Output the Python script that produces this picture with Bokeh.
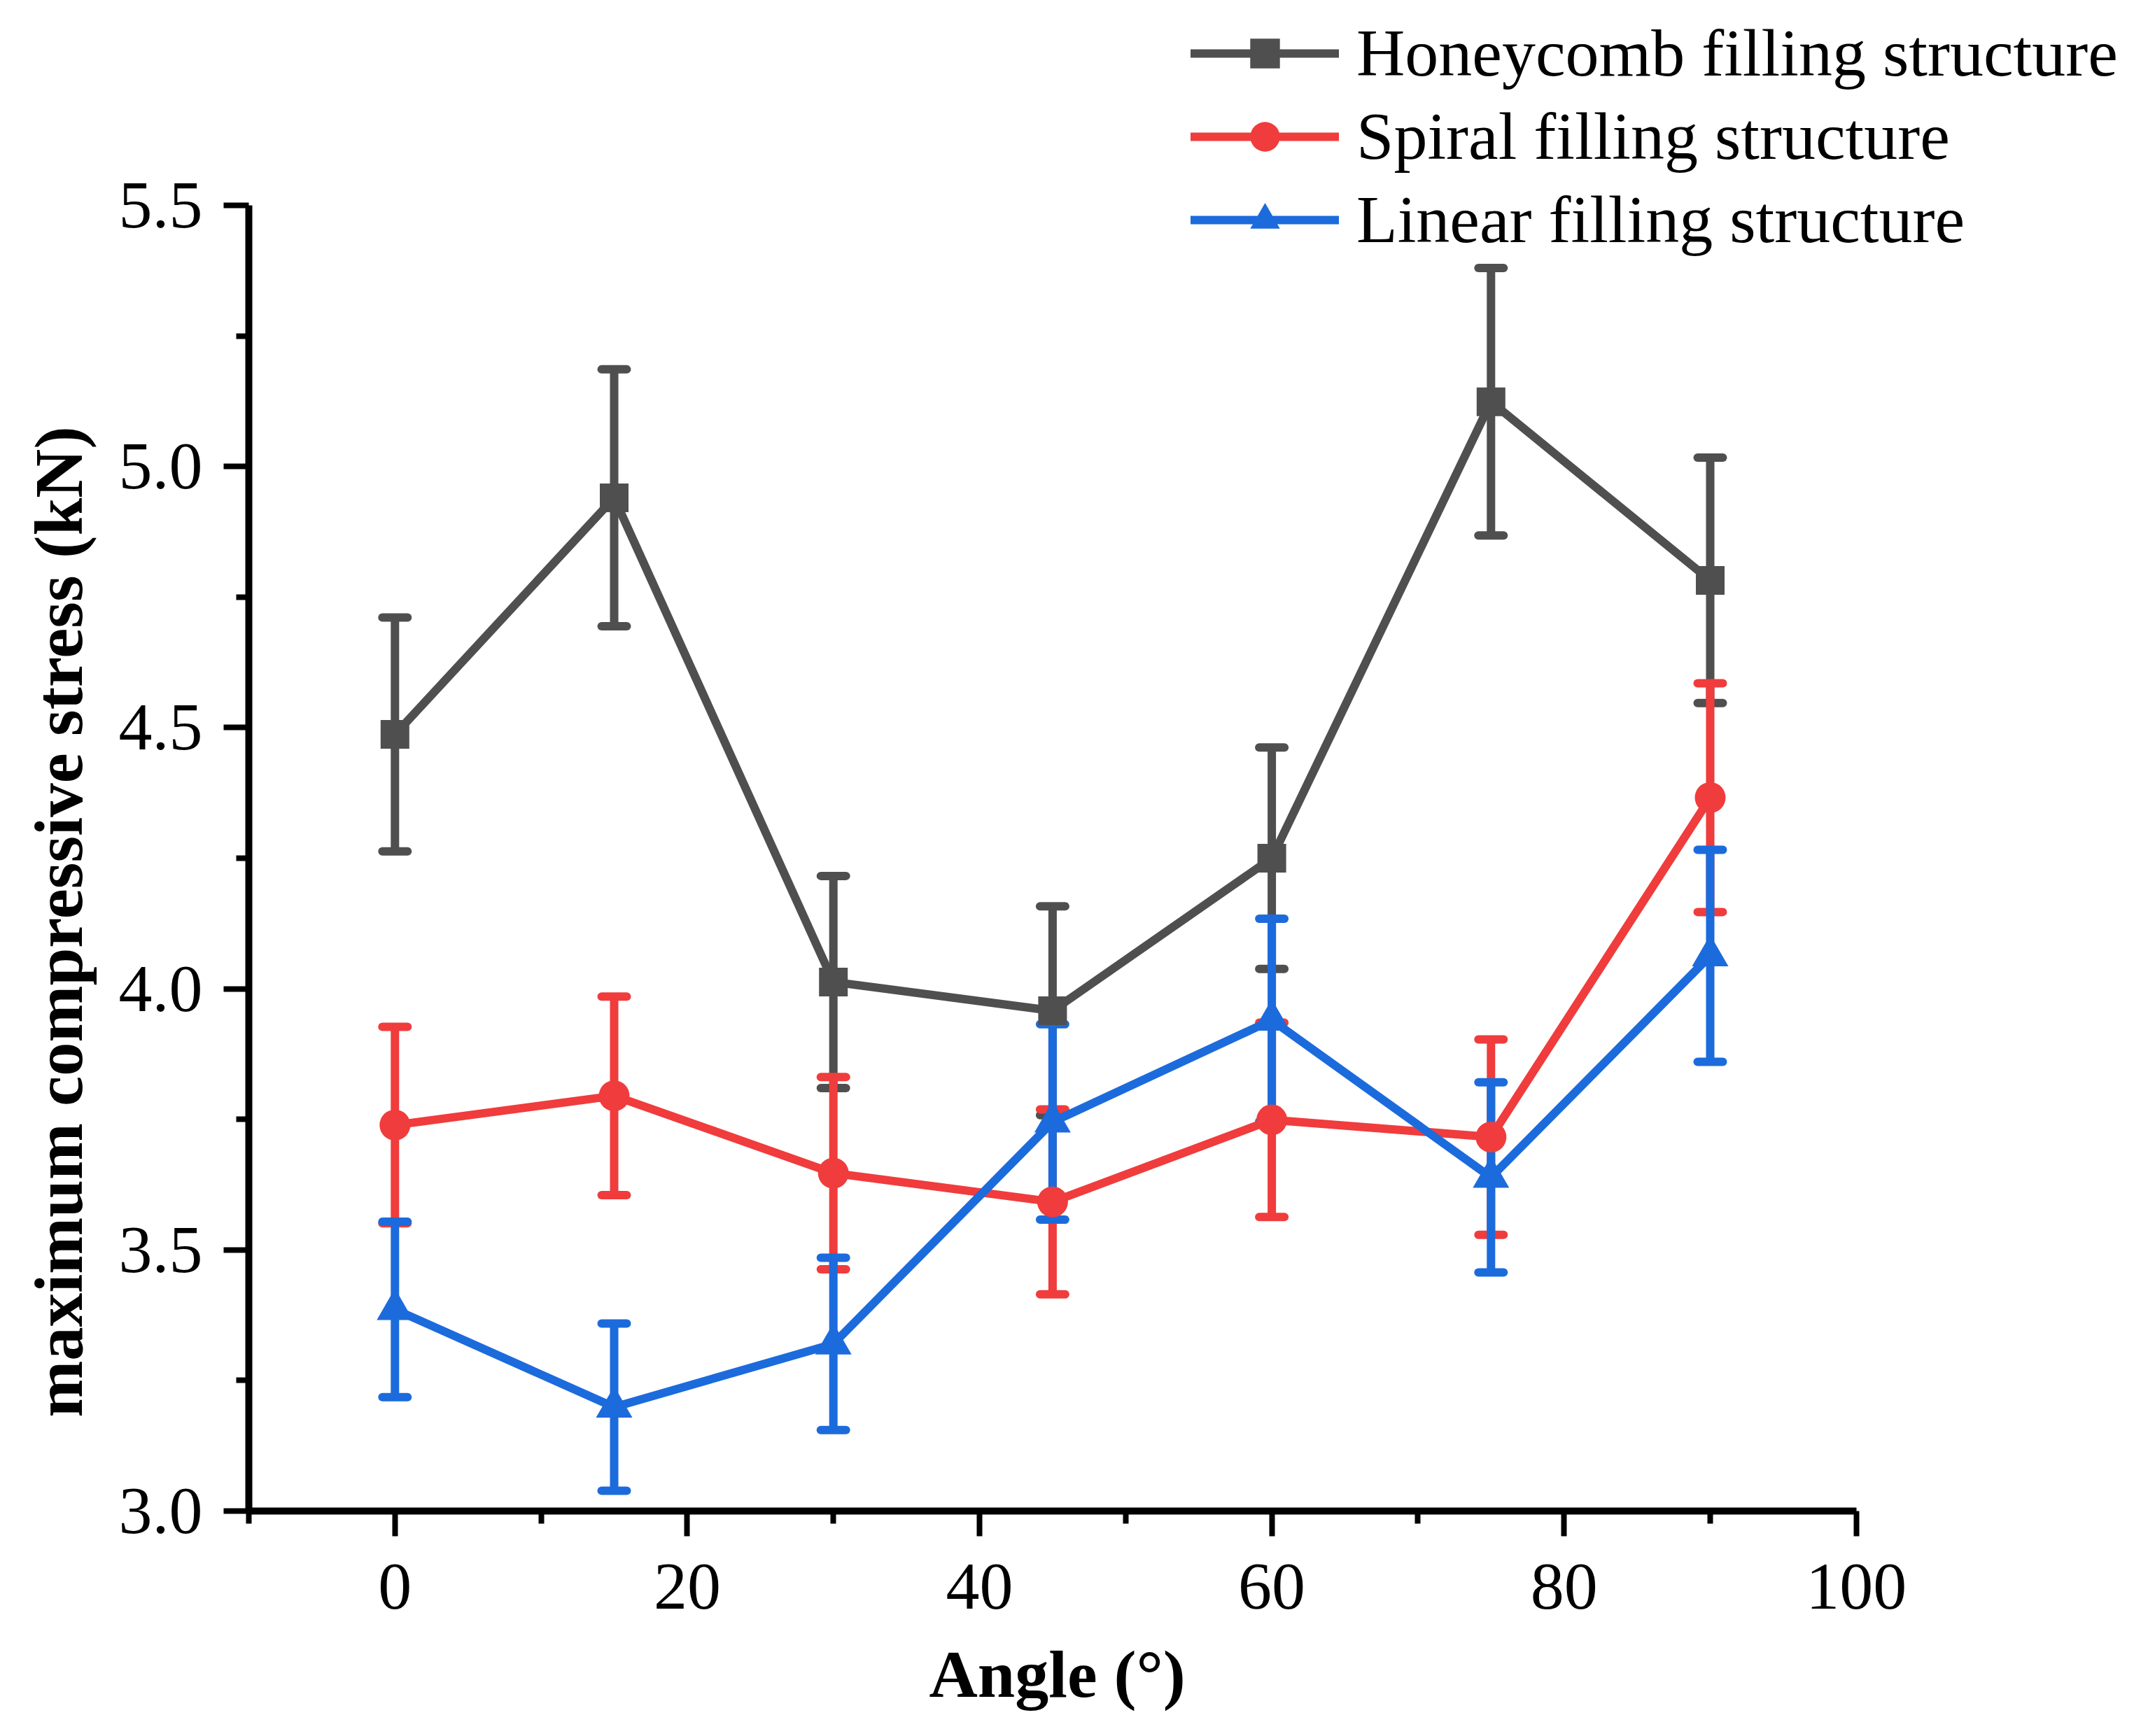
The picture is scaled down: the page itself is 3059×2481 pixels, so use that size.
from bokeh.plotting import figure
from bokeh.models import (ColumnDataSource, Whisker, TeeHead, Legend, LegendItem,
                          Range1d, FixedTicker, PrintfTickFormatter, Title)
from bokeh.embed import file_html
from bokeh.resources import INLINE

# ---- data ----
angles = [0, 15, 30, 45, 60, 75, 90]
honeycomb = [4.487, 4.94, 4.013, 3.958, 4.25, 5.124, 4.782]
honeycomb_err = [0.224, 0.246, 0.203, 0.200, 0.212, 0.256, 0.235]
spiral = [3.739, 3.795, 3.647, 3.592, 3.749, 3.716, 4.366]
spiral_err = [0.188, 0.190, 0.184, 0.177, 0.186, 0.187, 0.219]
linear = [3.386, 3.199, 3.320, 3.745, 3.940, 3.639, 4.063]
linear_err = [0.168, 0.160, 0.165, 0.187, 0.194, 0.182, 0.203]

names = ["Honeycomb filling structure", "Spiral filling structure", "Linear filling structure"]
colors = ["#4f4f4f", "#f03c3c", "#1c6bdc"]
markers = ["square", "circle", "triangle"]
msizes = [41, 44, 52]

x_label = "Angle (°)"
y_label = "maximum compressive stress (kN)"
x_ticks = [0, 20, 40, 60, 80, 100]
x_minor = [-10, 10, 30, 50, 70, 90]
y_ticks = [3.0, 3.5, 4.0, 4.5, 5.0, 5.5]
y_minor = [3.25, 3.75, 4.25, 4.75, 5.25]
x_axis_span = (-10, 100)
y_axis_span = (3.0, 5.5)

FONT = "Liberation Serif"

# frame extends to the top/right edges so the legend (which sits above/right
# of the axes in the reference) is not clipped; axes are bounded to their spans
W, H = 3051, 2473
LEFT, BOTTOM = 355, 314
FW, FH = W - LEFT, H - BOTTOM
px_x = 2088 / 100.0   # pixels per degree
px_y = 1866 / 2.5     # pixels per kN
p = figure(width=W, height=H, frame_width=FW, frame_height=FH,
           min_border_left=LEFT, min_border_right=0, min_border_top=0, min_border_bottom=BOTTOM,
           x_range=Range1d(-10, -10 + FW / px_x), y_range=Range1d(3.0, 3.0 + FH / px_y),
           output_backend="svg", toolbar_location=None)
p.outline_line_color = None
p.xgrid.visible = False
p.ygrid.visible = False
p.background_fill_color = "white"
p.border_fill_color = "white"

for ax in (p.xaxis[0], p.yaxis[0]):
    ax.axis_line_width = 10
    ax.axis_line_color = "black"
    ax.major_tick_line_width = 8
    ax.minor_tick_line_width = 8
    ax.major_tick_line_color = "black"
    ax.minor_tick_line_color = "black"
    ax.major_tick_in = 0
    ax.major_tick_out = 36
    ax.minor_tick_in = 0
    ax.minor_tick_out = 18
    ax.major_label_text_font = FONT
    ax.major_label_text_font_size = "96px"
    ax.major_label_text_color = "black"

p.xaxis[0].ticker = FixedTicker(ticks=x_ticks, minor_ticks=x_minor)
p.yaxis[0].ticker = FixedTicker(ticks=y_ticks, minor_ticks=y_minor)
p.xaxis[0].bounds = x_axis_span
p.yaxis[0].bounds = y_axis_span
p.yaxis[0].formatter = PrintfTickFormatter(format="%.1f")
p.xaxis[0].major_label_standoff = 40
p.yaxis[0].major_label_standoff = 30

# axis titles, positioned along the bounded axes
p.add_layout(Title(text=x_label, align="left", offset=972, standoff=70,
                   text_font=FONT, text_font_size="96px", text_font_style="bold",
                   text_color="black"), "below")
p.add_layout(Title(text=y_label, align="left", offset=134, standoff=57,
                   text_font=FONT, text_font_size="97px", text_font_style="bold",
                   text_color="black"), "left")

series = [(honeycomb, honeycomb_err), (spiral, spiral_err), (linear, linear_err)]
items = []
sources = []
for (vals, errs), name, col, mk, ms in zip(series, names, colors, markers, msizes):
    src = ColumnDataSource(dict(
        x=angles, y=vals,
        upper=[v + e for v, e in zip(vals, errs)],
        lower=[v - e for v, e in zip(vals, errs)],
    ))
    sources.append((src, col))
    ln = p.line("x", "y", source=src, line_color=col, line_width=12,
                line_cap="round", line_join="round")
    sc = p.scatter("x", "y", source=src, marker=mk, size=ms,
                   fill_color=col, line_color=col, line_width=0)
    items.append(LegendItem(label=name, renderers=[ln, sc]))

for src, col in sources:
    w = Whisker(source=src, base="x", upper="upper", lower="lower",
                line_color=col, line_width=12,
                upper_head=TeeHead(size=36, line_color=col, line_width=12, line_cap="round"),
                lower_head=TeeHead(size=36, line_color=col, line_width=12, line_cap="round"))
    p.add_layout(w)

legend = Legend(items=items, location=(1346, 1790), orientation="vertical",
                glyph_width=212, glyph_height=106, label_height=106, spacing=8,
                label_standoff=25, padding=0, margin=0,
                label_text_font=FONT, label_text_font_size="96px", label_text_color="black",
                border_line_alpha=0, background_fill_alpha=0)
p.add_layout(legend, "center")

open("out.html", "w").write(file_html(p, INLINE))
